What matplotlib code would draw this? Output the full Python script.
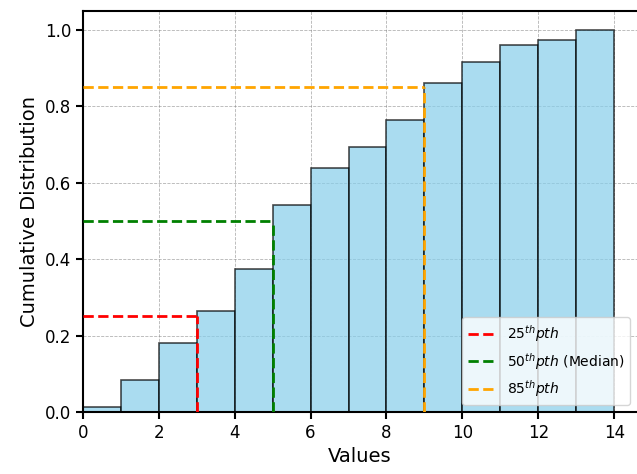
import matplotlib
matplotlib.use("Agg")
import matplotlib.pyplot as plt
import numpy as np

bin_left = [0, 1, 2, 3, 4, 5, 6, 7, 8, 9, 10, 11, 12, 13]
cum_values = [0.013, 0.084, 0.180, 0.264, 0.374, 0.542, 0.639, 0.694,
              0.764, 0.861, 0.916, 0.961, 0.974, 1.0]
pct_x = [3, 5, 9]
pct_y = [0.25, 0.50, 0.85]
pct_labels = [r'$25^{th} pth$', r'$50^{th} pth$ (Median)', r'$85^{th} pth$']
pct_colors = ['red', 'green', 'orange']

fig = plt.figure(figsize=(6.37, 4.74), dpi=100)
ax = fig.add_axes([0.130, 0.131, 0.870, 0.846])

ax.bar(bin_left, cum_values, width=1.0, align='edge', color='skyblue',
       edgecolor='black', linewidth=1.2, alpha=0.7, zorder=2)

for x, y, lab, c in zip(pct_x, pct_y, pct_labels, pct_colors):
    ax.hlines(y, 0, x, colors=c, linestyles='--', linewidth=2, label=lab, zorder=3)
    ax.vlines(x, 0, y, colors=c, linestyles='--', linewidth=2, zorder=3)

ax.set_xlim(0, 14.6)
ax.set_ylim(0, 1.05)
ax.set_xticks([0, 2, 4, 6, 8, 10, 12, 14])
ax.set_yticks([0.0, 0.2, 0.4, 0.6, 0.8, 1.0])
ax.tick_params(labelsize=12, width=1.5, length=5)
for s in ['left', 'bottom', 'top']:
    ax.spines[s].set_linewidth(1.5)
ax.spines['right'].set_visible(False)
ax.grid(True, linestyle='--', linewidth=0.6, color='gray', alpha=0.6, zorder=0)
ax.set_axisbelow(True)
ax.set_xlabel('Values', fontsize=14)
ax.set_ylabel('Cumulative Distribution', fontsize=14)
ax.legend(loc='lower right', fontsize=10)

fig.savefig('out.png', dpi=100)
